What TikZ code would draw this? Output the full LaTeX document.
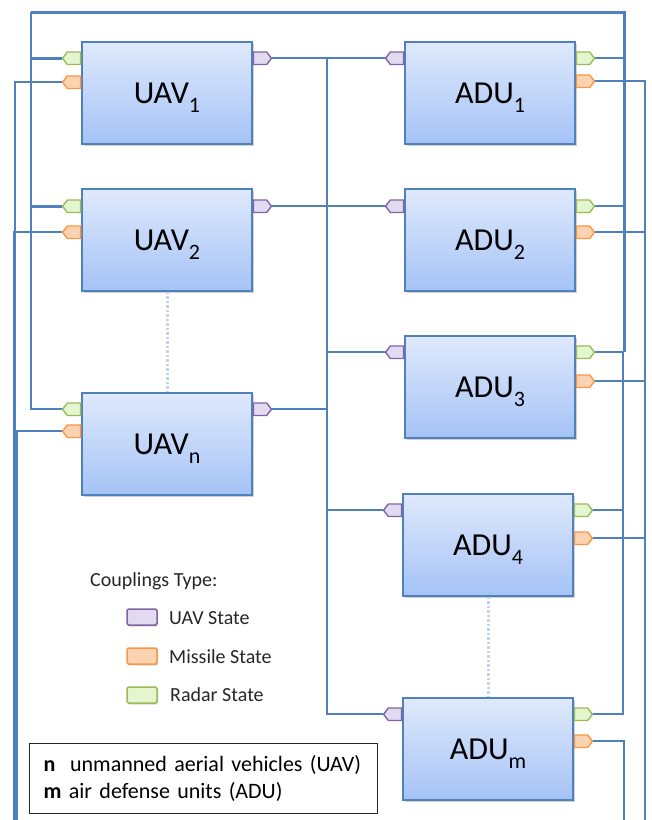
\documentclass[tikz,border=0pt]{standalone}
\usepackage{fontspec}
\setmainfont{Carlito}
\usetikzlibrary{shapes.symbols,shadows,calc}
\definecolor{lc}{HTML}{4F81BD}
\definecolor{boxtop}{HTML}{DFE9FC}
\definecolor{boxbot}{HTML}{A5C3F6}
\definecolor{grnf}{HTML}{E4F6D0}
\definecolor{grnb}{HTML}{9BBB59}
\definecolor{orgf}{HTML}{FCD3B2}
\definecolor{orgb}{HTML}{F79646}
\definecolor{purf}{HTML}{E2DAF0}
\definecolor{purb}{HTML}{8064A2}
\definecolor{dotc}{HTML}{C3D3EC}
\newcommand{\lab}[2]{\raisebox{-10pt}[0pt][0pt]{\fontsize{32}{36}\selectfont #1\raisebox{-9pt}{\fontsize{22}{24}\selectfont #2}}}
\tikzset{
  box/.style={draw=lc, line width=1.5pt, top color=boxtop, bottom color=boxbot,
    minimum width=170pt, minimum height=102pt, inner sep=0pt,
    drop shadow={shadow xshift=1.5pt, shadow yshift=-2pt, opacity=0.3, fill=black!60}},
  port/.style={shape=signal, minimum width=18pt, minimum height=12.5pt, inner sep=0pt,
    signal pointer angle=105, line width=1.4pt},
  pL/.style={port, signal to=west, anchor=east},
  pR/.style={port, signal to=east, anchor=west},
  pg/.style={draw=grnb, fill=grnf},
  po/.style={draw=orgb, fill=orgf},
  pp/.style={draw=purb, fill=purf},
  thinbus/.style={draw=lc, line width=1.6pt},
  midbus/.style={draw=lc, line width=2.3pt},
  thickbus/.style={draw=lc, line width=3pt},
  dotline/.style={draw=dotc, line width=3pt, dash pattern=on 2.5pt off 2pt},
  swatch/.style={rounded corners=1.5pt, line width=1.5pt, minimum width=30pt, minimum height=16pt, inner sep=0pt,
    drop shadow={shadow xshift=1pt, shadow yshift=-1.5pt, opacity=0.25, fill=black!60}},
  txt/.style={inner sep=0pt, anchor=west, font=\fontsize{20}{24}\selectfont, text=black!85}
}
\begin{document}
\begin{tikzpicture}[x=1pt,y=-1pt]
\useasboundingbox (0,0) rectangle (652,820);
% boxes
\node[box] (u1) at (167,93) {\lab{UAV}{1}};
\node[box] (u2) at (167,240) {\lab{UAV}{2}};
\node[box] (un) at (167,444) {\lab{UAV}{n}};
\node[box] (a1) at (490,93) {\lab{ADU}{1}};
\node[box] (a2) at (490,240) {\lab{ADU}{2}};
\node[box] (a3) at (490,387) {\lab{ADU}{3}};
\node[box] (a4) at (488,545) {\lab{ADU}{4}};
\node[box] (am) at (488,749) {\lab{ADU}{m}};
% UAV ports
\foreach \b/\g/\o in {u1/17/41, u2/18/44, un/17/39}{
  \node[pL,pg] (\b g) at ($(\b.north west)+(0,\g)$) {};
  \node[pL,po] (\b o) at ($(\b.north west)+(0,\o)$) {};
  \node[pR,pp] (\b p) at ($(\b.north east)+(0,\g)$) {};
}
% ADU ports
\foreach \b/\g/\o in {a1/17/40, a2/18/44, a3/17/46, a4/17/45, am/17/44}{
  \node[pL,pp] (\b p) at ($(\b.north west)+(0,\g)$) {};
  \node[pR,pg] (\b g) at ($(\b.north east)+(0,\g)$) {};
  \node[pR,po] (\b o) at ($(\b.north east)+(0,\o)$) {};
}
% bus coordinates
\coordinate (gTL) at (31,12);
\coordinate (gTR) at (624,12);
\coordinate (gR2) at (623,0);
\coordinate (oL1) at (15,825);
\coordinate (oL2) at (14,825);
\coordinate (oL3) at (17,825);
\coordinate (oR) at (645,825);
\coordinate (oR2) at (624,825);
\coordinate (pX) at (327,0);
% radar state bus
\draw[thickbus] (gTL) -- (gTR) -- (gTR |- a3g.east);
\draw[midbus] (ung.west) -| (gTL);
\draw[thickbus] (u1g.west) -- (u1g.west -| gTL);
\draw[thickbus] (u2g.west) -- (u2g.west -| gTL);
\draw[thinbus] (a1g.east) -- (a1g.east -| gTR);
\draw[thinbus] (a2g.east) -- (a2g.east -| gTR);
\draw[thinbus] (a3g.east) -- (a3g.east -| gTR);
\draw[thinbus] (a3g.east -| gR2) |- (amg.east);
\draw[thinbus] (a4g.east) -- (a4g.east -| gR2);
% missile state bus
\draw[thinbus] (u1o.west) -| (oL1);
\draw[midbus] (u2o.west) -| (oL2);
\draw[thinbus] (uno.west) -| (oL3);
\draw[thinbus] (a1o.east) -| (oR);
\draw[midbus] (a2o.east) -| (oR);
\draw[thinbus] (a3o.east) -- (a3o.east -| oR);
\draw[thinbus] (a4o.east) -- (a4o.east -| oR);
\draw[thinbus] (amo.east) -| (oR2);
% UAV state bus
\draw[thinbus] (u1p.east) -- (a1p.west);
\draw[thinbus] (u2p.east) -- (a2p.west);
\draw[thinbus] (u1p.east -| pX) |- (amp.west);
\draw[thinbus] (unp.east) -- (unp.east -| pX);
\draw[thinbus] (a3p.west) -- (a3p.west -| pX);
\draw[thinbus] (a4p.west) -- (a4p.west -| pX);
% dotted continuations
\draw[dotline] (u2.south) -- (un.north);
\draw[dotline] (a4.south) -- (am.north);
% legend
\node[txt] (ct) at (90,581) {Couplings Type:};
\node[swatch, pp] (s1) at (142,617) {};
\node[txt] (t1) at (169,618) {UAV State};
\node[swatch, po] (s2) at (142,656) {};
\node[txt] (t2) at (169,657) {Missile State};
\node[swatch, pg] (s3) at (142,695) {};
\node[txt] (t3) at (170,695) {Radar State};
% note
\node[draw=black!85, line width=1.3pt, fill=white, anchor=north west, minimum height=70pt,
  text width=320pt, inner xsep=14pt, inner ysep=0pt, align=left,
  font=\fontsize{22}{27}\selectfont] (note) at (29,743)
  {\textbf{n}\ \ unmanned aerial vehicles (UAV)\\\textbf{m} air defense units (ADU)};
\end{tikzpicture}
\end{document}
